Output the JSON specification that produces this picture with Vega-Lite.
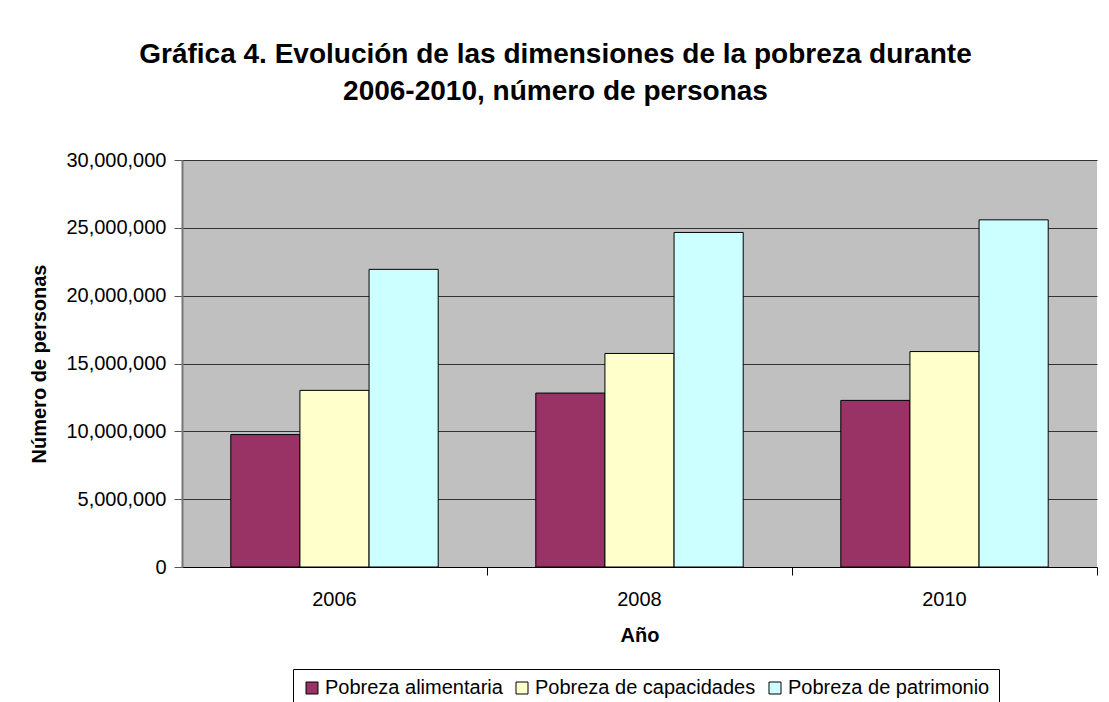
{
  "$schema": "https://vega.github.io/schema/vega-lite/v6.json",
  "width": 915,
  "height": 407,
  "autosize": {"type": "none"},
  "padding": {"left": 182, "top": 160, "right": 12, "bottom": 135},
  "background": "white",
  "title": {
    "text": ["Gráfica 4. Evolución de las dimensiones de la pobreza durante", "2006-2010, número de personas"],
    "font": "Liberation Sans",
    "fontSize": 28,
    "fontWeight": "bold",
    "color": "black",
    "anchor": "middle",
    "frame": "group",
    "dx": -84,
    "offset": 44,
    "lineHeight": 37
  },
  "config": {
    "view": {"fill": "#C0C0C0", "stroke": null},
    "font": "Liberation Sans"
  },
  "data": {
    "values": [
      {"anio": "2006", "tipo": "Pobreza alimentaria", "personas": 9760000},
      {"anio": "2006", "tipo": "Pobreza de capacidades", "personas": 13020000},
      {"anio": "2006", "tipo": "Pobreza de patrimonio", "personas": 21940000},
      {"anio": "2008", "tipo": "Pobreza alimentaria", "personas": 12820000},
      {"anio": "2008", "tipo": "Pobreza de capacidades", "personas": 15740000},
      {"anio": "2008", "tipo": "Pobreza de patrimonio", "personas": 24660000},
      {"anio": "2010", "tipo": "Pobreza alimentaria", "personas": 12280000},
      {"anio": "2010", "tipo": "Pobreza de capacidades", "personas": 15880000},
      {"anio": "2010", "tipo": "Pobreza de patrimonio", "personas": 25590000}
    ]
  },
  "mark": {"type": "bar", "stroke": "black", "strokeWidth": 1, "opacity": 1},
  "encoding": {
    "x": {
      "field": "anio",
      "type": "nominal",
      "scale": {"paddingInner": 0.32, "paddingOuter": 0.16},
      "axis": {
        "title": "Año",
        "labelAngle": 0,
        "bandPosition": 1.2353,
        "tickColor": "black",
        "tickSize": 8,
        "domainColor": "black",
        "labelFontSize": 20,
        "labelColor": "black",
        "labelPadding": 14,
        "titleFontSize": 20,
        "titleFontWeight": "bold",
        "titleColor": "black",
        "titlePadding": 16
      }
    },
    "xOffset": {
      "field": "tipo",
      "type": "nominal",
      "sort": ["Pobreza alimentaria", "Pobreza de capacidades", "Pobreza de patrimonio"],
      "scale": {"paddingInner": 0, "paddingOuter": 0}
    },
    "y": {
      "field": "personas",
      "type": "quantitative",
      "scale": {"domain": [0, 30000000], "nice": false},
      "axis": {
        "title": "Número de personas",
        "values": [0, 5000000, 10000000, 15000000, 20000000, 25000000, 30000000],
        "format": ",d",
        "grid": true,
        "gridColor": "#333333",
        "gridWidth": 1,
        "tickColor": "#555555",
        "tickSize": 8,
        "domainColor": "#777777",
        "domainWidth": 2,
        "labelFontSize": 20,
        "labelColor": "black",
        "labelPadding": 8,
        "titleFontSize": 20,
        "titleFontWeight": "bold",
        "titleColor": "black",
        "titlePadding": 16
      }
    },
    "color": {
      "field": "tipo",
      "type": "nominal",
      "sort": ["Pobreza alimentaria", "Pobreza de capacidades", "Pobreza de patrimonio"],
      "scale": {
        "domain": ["Pobreza alimentaria", "Pobreza de capacidades", "Pobreza de patrimonio"],
        "range": ["#993366", "#FFFFCC", "#CCFFFF"]
      },
      "legend": {
        "orient": "none",
        "legendX": 111,
        "legendY": 509,
        "direction": "horizontal",
        "title": null,
        "symbolType": "square",
        "symbolSize": 144,
        "symbolStrokeColor": "black",
        "symbolStrokeWidth": 1,
        "symbolOpacity": 1,
        "labelFontSize": 20,
        "labelColor": "black",
        "labelLimit": 400,
        "labelOffset": 3,
        "columnPadding": 9,
        "rowPadding": 0,
        "strokeColor": "black",
        "fillColor": "white",
        "padding": 9
      }
    }
  }
}
